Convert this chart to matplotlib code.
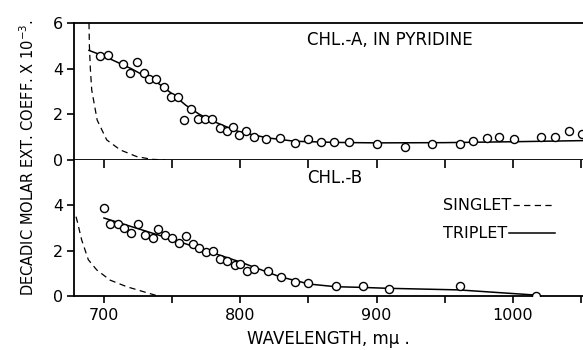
import matplotlib
matplotlib.use("Agg")
import matplotlib.pyplot as plt
from matplotlib.ticker import MultipleLocator, FixedLocator

# ---- data ----
a_wl = [697, 703, 714, 719, 724, 729, 733, 738, 744, 749, 754, 759, 764, 769, 774, 779,
        785, 790, 795, 799, 804, 810, 819, 829, 840, 850, 859, 869, 880, 900, 921, 941,
        961, 971, 981, 990, 1001, 1021, 1031, 1041, 1051]
a_eps = [4.56, 4.6, 4.2, 3.82, 4.28, 3.82, 3.56, 3.56, 3.18, 2.77, 2.75, 1.75, 2.23, 1.8, 1.8, 1.8,
         1.42, 1.27, 1.46, 1.1, 1.28, 0.99, 0.92, 0.98, 0.74, 0.9, 0.8, 0.8, 0.8, 0.7, 0.58, 0.7,
         0.69, 0.83, 0.95, 1.02, 0.9, 1.02, 1.02, 1.27, 1.12]
a_trip_wl = [689, 700, 720, 740, 750, 760, 770, 780, 790, 800, 820, 840, 870, 900, 950, 1000, 1052]
a_trip_eps = [4.8, 4.55, 4.0, 3.35, 2.9, 2.4, 2.0, 1.7, 1.45, 1.22, 0.97, 0.82, 0.77, 0.75, 0.76, 0.8, 0.85]
a_sing_wl = [689, 689.3, 690, 691, 695, 702, 712, 724, 735, 745]
a_sing_eps = [6.0, 5.0, 4.0, 3.07, 1.75, 0.88, 0.44, 0.15, 0.03, 0.0]

b_wl = [700, 704.5, 710, 715, 720, 725, 730, 736, 740, 745, 750, 755, 760, 765, 770, 775,
        780, 785, 790, 796, 800, 805, 810, 820, 830, 840, 850, 870, 890, 909, 961, 1017]
b_eps = [3.88, 3.19, 3.16, 3.02, 2.8, 3.17, 2.67, 2.55, 2.96, 2.7, 2.55, 2.36, 2.65, 2.3, 2.1, 1.93,
         2.0, 1.64, 1.55, 1.37, 1.42, 1.12, 1.19, 1.12, 0.85, 0.63, 0.56, 0.44, 0.44, 0.3, 0.44, 0.0]
b_trip_wl = [700, 750, 800, 829, 844, 850, 870, 889, 908, 960, 1017]
b_trip_eps = [3.44, 2.5, 1.5, 0.85, 0.63, 0.53, 0.41, 0.38, 0.34, 0.27, 0.04]
b_sing_wl = [679.5, 680.4, 683.6, 688.5, 694.7, 704.5, 716.7, 729, 738]
b_sing_eps = [3.5, 3.29, 2.48, 1.6, 1.15, 0.7, 0.41, 0.19, 0.03]

x_major = [700, 800, 900, 1000]
x_labels = ["700", "800", "900", "1000"]

# ---- figure ----
W, H = 583, 350
fig = plt.figure(figsize=(W / 100, H / 100), dpi=100)
left = 74 / W
width = 1 - left
ax_top = fig.add_axes([left, 1 - 160 / H, width, 137 / H])
ax_bot = fig.add_axes([left, 1 - 296 / H, width, 136 / H])

dash = (0, (5, 3.5))
for ax in (ax_top, ax_bot):
    ax.set_xlim(678, 1051.5)
    ax.set_ylim(0, 6)
    ax.spines['right'].set_visible(False)
    for s in ax.spines.values():
        s.set_linewidth(1.3)
    ax.tick_params(axis='y', direction='out', length=5, width=1.2, labelsize=11.5, pad=3)

# top panel
ax_top.plot(a_wl, a_eps, linestyle='none', marker='o', ms=5.8, mfc='white', mec='black', mew=1.0, zorder=3)
ax_top.plot(a_trip_wl, a_trip_eps, color='black', lw=1.1)
ax_top.plot(a_sing_wl, a_sing_eps, color='black', lw=0.9, linestyle=dash)
ax_top.set_yticks([0, 2, 4, 6])
ax_top.tick_params(axis='x', which='both', bottom=False, top=False, labelbottom=False)
ax_top.text(849, 5.25, "CHL.-A, IN PYRIDINE", fontsize=12, va='center', ha='left')

# bottom panel
ax_bot.spines['top'].set_visible(False)
ax_bot.plot(b_wl, b_eps, linestyle='none', marker='o', ms=5.8, mfc='white', mec='black', mew=1.0, zorder=3)
trip, = ax_bot.plot(b_trip_wl, b_trip_eps, color='black', lw=1.1)
sing, = ax_bot.plot(b_sing_wl, b_sing_eps, color='black', lw=0.9, linestyle=dash)
ax_bot.set_yticks([0, 2, 4])
ax_bot.xaxis.set_major_locator(FixedLocator(x_major))
ax_bot.set_xticklabels(x_labels)
ax_bot.xaxis.set_minor_locator(MultipleLocator(50))
ax_bot.tick_params(axis='x', which='both', top=True, bottom=True, direction='out', length=5, width=1.2,
                   labelsize=11.5, pad=4)
ax_bot.text(849, 5.22, "CHL.-B", fontsize=12, va='center', ha='left')

# top ticks of bottom panel hang down from the shared line
for tk in ax_bot.xaxis.get_major_ticks() + ax_bot.xaxis.get_minor_ticks():
    tk.tick2line.set_marker(3)  # TICKDOWN
    tk.tick2line.set_markersize(6)

# legend: label first, sample line after, labels left-aligned
leg1 = ax_bot.legend([sing], ["SINGLET"], loc='center left', bbox_to_anchor=(0.725, 0.663),
                     frameon=False, markerfirst=False, handlelength=2.6, handletextpad=0.1,
                     fontsize=11.5, borderpad=0, borderaxespad=0)
ax_bot.add_artist(leg1)
ax_bot.legend([trip], ["TRIPLET"], loc='center left', bbox_to_anchor=(0.725, 0.457),
              frameon=False, markerfirst=False, handlelength=2.9, handletextpad=0.1,
              fontsize=11.5, borderpad=0, borderaxespad=0)

ax_bot.set_xlabel("WAVELENGTH, m\u03bc .", fontsize=12, labelpad=5)
fig.text(0.048, 0.55, "DECADIC MOLAR EXT. COEFF. X 10$^{-3}$.", rotation=90,
         fontsize=10.5, ha='center', va='center')

fig.savefig("out.png", dpi=100)
